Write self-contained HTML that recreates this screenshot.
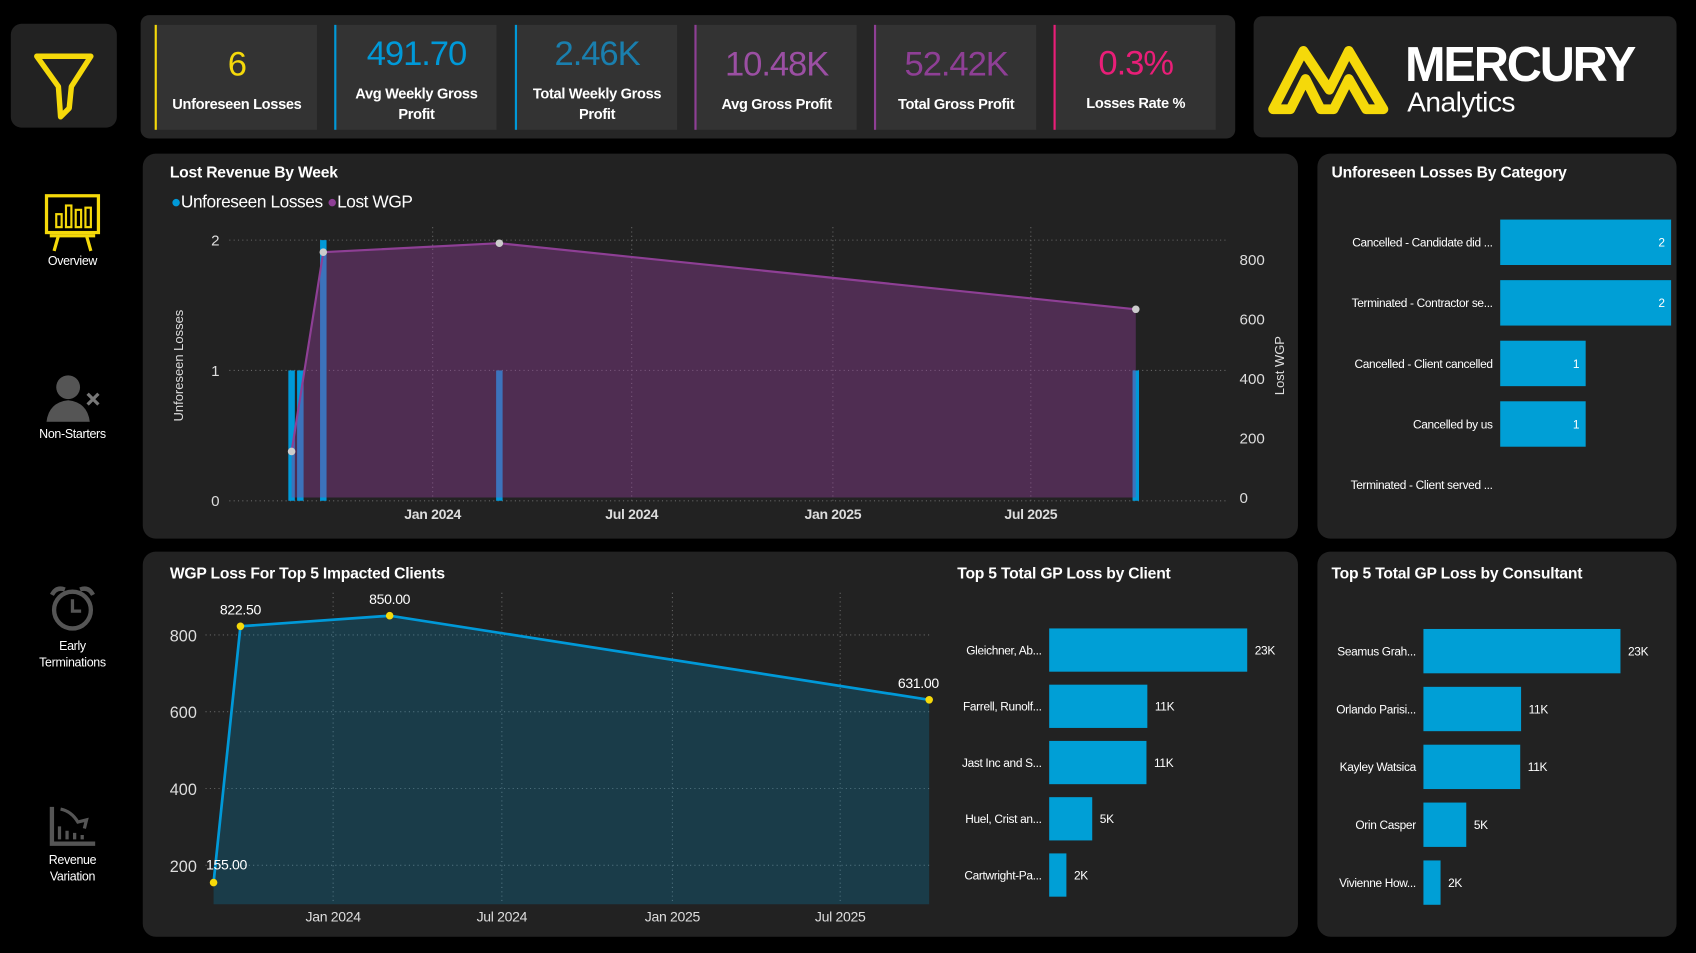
<!DOCTYPE html>
<html><head><meta charset="utf-8"><style>
html,body{margin:0;padding:0;background:#000;width:1696px;height:953px;overflow:hidden}
#wrap{position:absolute;left:0;top:0;width:1568px;height:881px;transform:scale(1.08163);transform-origin:0 0;font-family:"Liberation Sans Narrow","Liberation Sans",sans-serif;color:#fff}
.card{position:absolute;background:#222;border-radius:12px}
.kpi{position:absolute;top:23px;width:148px;height:97px;background:#333;border-left:2px solid}
.kv{position:absolute;left:0;right:0;top:18px;text-align:center;font-size:32px;letter-spacing:-1px}
.kl{position:absolute;left:0;right:0;text-align:center;font-size:13.5px;font-weight:bold;line-height:19px;letter-spacing:-0.3px}
.title{position:absolute;font-size:14.5px;font-weight:bold;font-family:"Liberation Sans",sans-serif;letter-spacing:-0.2px}
.nav{position:absolute;left:20px;width:94px;text-align:center;font-size:11.5px;line-height:15px;letter-spacing:-0.3px}
svg text{font-family:"Liberation Sans Narrow","Liberation Sans",sans-serif}
</style></head><body>
<div id="wrap">
 <div class="card" style="left:10px;top:22px;width:98px;height:96px;border-radius:10px">
  <svg width="98" height="96"><path d="M24 30 L74 30 L56 58 L54 78 L46 86 L44 58 Z" fill="none" stroke="#f5d90a" stroke-width="5" stroke-linejoin="round"/></svg>
 </div>
 <div class="card" style="left:130px;top:14px;width:1012px;height:114px;background:#262626;border-radius:8px"></div>
 <div class="kpi" style="left:143px;border-color:#f5d90a"><div class="kv" style="color:#f5d90a">6</div><div class="kl" style="top:64px">Unforeseen Losses</div></div>
 <div class="kpi" style="left:309px;border-color:#0099d8"><div class="kv" style="color:#0099d8;top:8px">491.70</div><div class="kl" style="top:54px">Avg Weekly Gross<br>Profit</div></div>
 <div class="kpi" style="left:476px;border-color:#0099d8"><div class="kv" style="color:#1a7fae;top:8px">2.46K</div><div class="kl" style="top:54px">Total Weekly Gross<br>Profit</div></div>
 <div class="kpi" style="left:642px;border-color:#8e3f95"><div class="kv" style="color:#9b4fa3">10.48K</div><div class="kl" style="top:64px">Avg Gross Profit</div></div>
 <div class="kpi" style="left:808px;border-color:#8e3f95"><div class="kv" style="color:#8e3f95">52.42K</div><div class="kl" style="top:64px">Total Gross Profit</div></div>
 <div class="kpi" style="left:974px;border-color:#e91e78"><div class="kv" style="color:#e91e78;top:17px">0.3%</div><div class="kl" style="top:63px">Losses Rate %</div></div>
 <div class="card" style="left:1159px;top:15px;width:391px;height:112px;border-radius:8px">
  <svg width="130" height="112"><path d="M18 86 L46 32 L70 68 L88 32 L120 86 L104 86 L88 58 L74 86 L62 86 L48 58 L34 86 Z" fill="none" stroke="#f5d90a" stroke-width="9" stroke-linejoin="round"/></svg>
  <div style="position:absolute;left:140px;top:20px;font-size:45px;font-weight:bold;letter-spacing:-2px;font-family:'Liberation Sans',sans-serif;line-height:50px">MERCURY</div>
  <div style="position:absolute;left:142px;top:64px;font-size:26px;line-height:30px;letter-spacing:-0.5px">Analytics</div>
 </div>

 <div class="nav" style="top:178px">
  <svg width="54" height="56"><rect x="3" y="3" width="48" height="34" fill="none" stroke="#f5d90a" stroke-width="3"/><rect x="12" y="20" width="5" height="12" fill="none" stroke="#f5d90a" stroke-width="2"/><rect x="21" y="12" width="5" height="20" fill="none" stroke="#f5d90a" stroke-width="2"/><rect x="30" y="16" width="5" height="16" fill="none" stroke="#f5d90a" stroke-width="2"/><rect x="39" y="14" width="5" height="18" fill="none" stroke="#f5d90a" stroke-width="2"/><path d="M6 40 H48 M14 40 L10 54 M40 40 L44 54" stroke="#f5d90a" stroke-width="3" fill="none"/></svg><br><span style="position:relative;top:-4px">Overview</span></div>
 <div class="nav" style="top:344px">
  <svg width="60" height="46"><circle cx="26" cy="14" r="11" fill="#555"/><path d="M6 46 Q8 28 26 26 Q44 28 46 46 Z" fill="#555"/><path d="M44 20 L54 30 M54 20 L44 30" stroke="#777" stroke-width="3"/></svg><br>Non-Starters</div>
 <div class="nav" style="top:540px">
  <svg width="50" height="46"><circle cx="25" cy="24" r="17" fill="none" stroke="#555" stroke-width="4"/><path d="M25 14 V25 H33" stroke="#555" stroke-width="3" fill="none"/><path d="M6 10 Q10 2 18 5 M44 10 Q40 2 32 5" stroke="#555" stroke-width="4" fill="none"/></svg><br>Early<br>Terminations</div>
 <div class="nav" style="top:744px">
  <svg width="50" height="40"><path d="M6 2 V36 H46" stroke="#555" stroke-width="4" fill="none"/><path d="M13 20 V32 M20 24 V32 M27 26 V32 M34 28 V32" stroke="#555" stroke-width="3"/><path d="M14 4 Q24 6 30 16 L38 14 L36 22" stroke="#555" stroke-width="3" fill="none"/></svg><br>Revenue<br>Variation</div>

 <div class="card" style="left:132px;top:142px;width:1068px;height:356px"></div>
 <div class="title" style="left:157px;top:152px">Lost Revenue By Week</div>
 <div style="position:absolute;left:158px;top:179px;font-size:16px;letter-spacing:-0.4px"><span style="color:#0099d8">●</span>Unforeseen Losses <span style="color:#8e3f95">●</span>Lost WGP</div>

 <div class="card" style="left:1218px;top:142px;width:332px;height:356px"></div>
 <div class="title" style="left:1231px;top:152px">Unforeseen Losses By Category</div>

 <div class="card" style="left:132px;top:510px;width:1068px;height:356px"></div>
 <div class="title" style="left:157px;top:523px">WGP Loss For Top 5 Impacted Clients</div>
 <div class="title" style="left:885px;top:523px">Top 5 Total GP Loss by Client</div>

 <div class="card" style="left:1218px;top:510px;width:332px;height:356px"></div>
 <div class="title" style="left:1231px;top:523px">Top 5 Total GP Loss by Consultant</div>

 <svg id="charts" width="1568" height="881" style="position:absolute;left:0;top:0"></svg>
</div>
<script>
const weekDates = ['2023-08-25','2023-09-02','2023-09-23','2024-03-02','2025-10-05'];
const lossCounts = [1,1,2,1,1];
const wgpDates = ['2023-08-25','2023-09-23','2024-03-02','2025-10-05'];
const wgpValues = [155,825,855,633];
const leftTicks = [0,1,2];
const rightTicks = [0,200,400,600,800];
const xTickDates = ['2024-01-01','2024-07-01','2025-01-01','2025-07-01'];
const xTickLabels = ['Jan 2024','Jul 2024','Jan 2025','Jul 2025'];
const clientDates = ['2023-08-25','2023-09-23','2024-03-02','2025-10-05'];
const clientValues = [155,822.5,850,631];
const clientLabels = ['155.00','822.50','850.00','631.00'];
const clientYTicks = [200,400,600,800];
const categoryNames = ['Cancelled - Candidate did ...','Terminated - Contractor se...','Cancelled - Client cancelled','Cancelled by us','Terminated - Client served ...'];
const categoryValues = [2,2,1,1,0];
const clientNames = ['Gleichner, Ab...','Farrell, Runolf...','Jast Inc and S...','Huel, Crist an...','Cartwright-Pa...'];
const clientGP = [23,11.4,11.3,5,2];
const consultantNames = ['Seamus Grah...','Orlando Parisi...','Kayley Watsica','Orin Casper','Vivienne How...'];
const consultantGP = [23,11.4,11.3,5,2];

const NS='http://www.w3.org/2000/svg';
const svg=document.getElementById('charts');
function el(tag,a,parent){const e=document.createElementNS(NS,tag);for(const k in a)e.setAttribute(k,a[k]);(parent||svg).appendChild(e);return e;}
function days(d){return (new Date(d)-new Date('2024-01-01'))/86400000;}
function fmtK(v){return Math.round(v)+'K';}

// ---- Top chart
const x1=d=>400+days(d)*1.011, yL=v=>463-v*120.5, yR=v=>460-v*0.275;
leftTicks.forEach(t=>{
 let g=el('line',{x1:212,x2:1135,y1:yL(t),y2:yL(t),stroke:'#666','stroke-dasharray':'1 3'});
 
 
 let tx=el('text',{x:203,y:yL(t)+5,'text-anchor':'end',fill:'#ddd','font-size':14});tx.textContent=t;
 
 
});
rightTicks.forEach(t=>{
 let tx=el('text',{x:1146,y:yR(t)+5,fill:'#ddd','font-size':14});tx.textContent=t;
 
 
});
xTickDates.forEach((d,i)=>{
 let g=el('line',{x1:x1(d),x2:x1(d),y1:210,y2:463,stroke:'#666','stroke-dasharray':'1 3'});
 
 
 let tx=el('text',{x:x1(d),y:480,'text-anchor':'middle',fill:'#ddd','font-size':13,'font-weight':'bold','letter-spacing':'-0.3'});tx.textContent=xTickLabels[i];
 
 
});
let at=el('text',{transform:'translate(169 338) rotate(-90)','text-anchor':'middle',fill:'#ddd','font-size':12,'font-family':'Liberation Sans'});at.textContent='Unforeseen Losses';


let at2=el('text',{transform:'translate(1187 338) rotate(-90)','text-anchor':'middle',fill:'#ddd','font-size':12,'font-family':'Liberation Sans'});at2.textContent='Lost WGP';


weekDates.forEach((d,i)=>{
 let b=el('rect',{x:x1(d)-3,y:yL(lossCounts[i]),width:6,height:yL(0)-yL(lossCounts[i]),fill:'#0099d8'});
 
 
});
let pts=wgpDates.map((d,i)=>[x1(d),yR(wgpValues[i])]);
let area=el('path',{d:'M'+pts[0][0]+' '+yR(0)+' L'+pts.map(p=>p.join(' ')).join(' L')+' L'+pts[pts.length-1][0]+' '+yR(0)+' Z',fill:'#8e3f95','fill-opacity':0.42});


let ln=el('polyline',{points:pts.map(p=>p.join(',')).join(' '),fill:'none',stroke:'#8e3f95','stroke-width':2});


pts.forEach(p=>{let c=el('circle',{cx:p[0],cy:p[1],r:3.5,fill:'#ccc'});
 
 });

// ---- Bottom line chart
const x2=d=>308+days(d)*0.857, y2=v=>871-v*0.355, base2=836;
clientYTicks.forEach(t=>{
 let g=el('line',{x1:190,x2:862,y1:y2(t),y2:y2(t),stroke:'#666','stroke-dasharray':'1 3'});
 
 
 let tx=el('text',{x:182,y:y2(t)+6,'text-anchor':'end',fill:'#ddd','font-size':15});tx.textContent=t;
 
 
});
xTickDates.forEach((d,i)=>{
 let g=el('line',{x1:x2(d),x2:x2(d),y1:548,y2:base2,stroke:'#666','stroke-dasharray':'1 3'});
 
 
 let tx=el('text',{x:x2(d),y:852,'text-anchor':'middle',fill:'#ddd','font-size':13,'letter-spacing':'-0.3'});tx.textContent=xTickLabels[i];
 
 
});
let p2=clientDates.map((d,i)=>[x2(d),y2(clientValues[i])]);
let area2=el('path',{d:'M'+p2[0][0]+' '+base2+' L'+p2.map(p=>p.join(' ')).join(' L')+' L'+p2[p2.length-1][0]+' '+base2+' Z',fill:'#0099d8','fill-opacity':0.22});


let ln2=el('polyline',{points:p2.map(p=>p.join(',')).join(' '),fill:'none',stroke:'#0099d8','stroke-width':2.5});


p2.forEach((p,i)=>{let c=el('circle',{cx:p[0],cy:p[1],r:3.5,fill:'#f5d90a'});
 
 
 let tx=el('text',{x:i==0?p[0]+12:p[0]-(i==3?10:0),y:i==0?p[1]-12:p[1]-11,'text-anchor':'middle',fill:'#fff','font-size':13,'letter-spacing':'-0.3'});tx.textContent=clientLabels[i];
 
 
});

// ---- Horizontal bar charts
function hbars(names,vals,x0,scale,y0,step,h,inside,fmt,prefix){
 names.forEach((n,i)=>{
  const cy=y0+i*step;
  let t=el('text',{x:x0-7,y:cy+4,'text-anchor':'end',fill:'#fff','font-size':11,'letter-spacing':'-0.3'});t.textContent=n;
  
  
  const w=vals[i]*scale;
  if(w>0){
   let b=el('rect',{x:x0,y:cy-h/2,width:w,height:h,fill:'#009fd6'});
   
   
   let v=el('text',{x:inside?x0+w-6:x0+w+7,y:cy+4,'text-anchor':inside?'end':'start',fill:'#fff','font-size':11,'letter-spacing':'-0.3'});v.textContent=fmt(vals[i]);
   
   
  }
 });
}
hbars(categoryNames,categoryValues,1387,79,224,56,42,true,v=>v,'category');
hbars(clientNames,clientGP,970,7.96,601,52,40,false,fmtK,'client');
hbars(consultantNames,consultantGP,1316,7.92,602,53.5,41,false,fmtK,'consultant');
</script>
</body></html>
